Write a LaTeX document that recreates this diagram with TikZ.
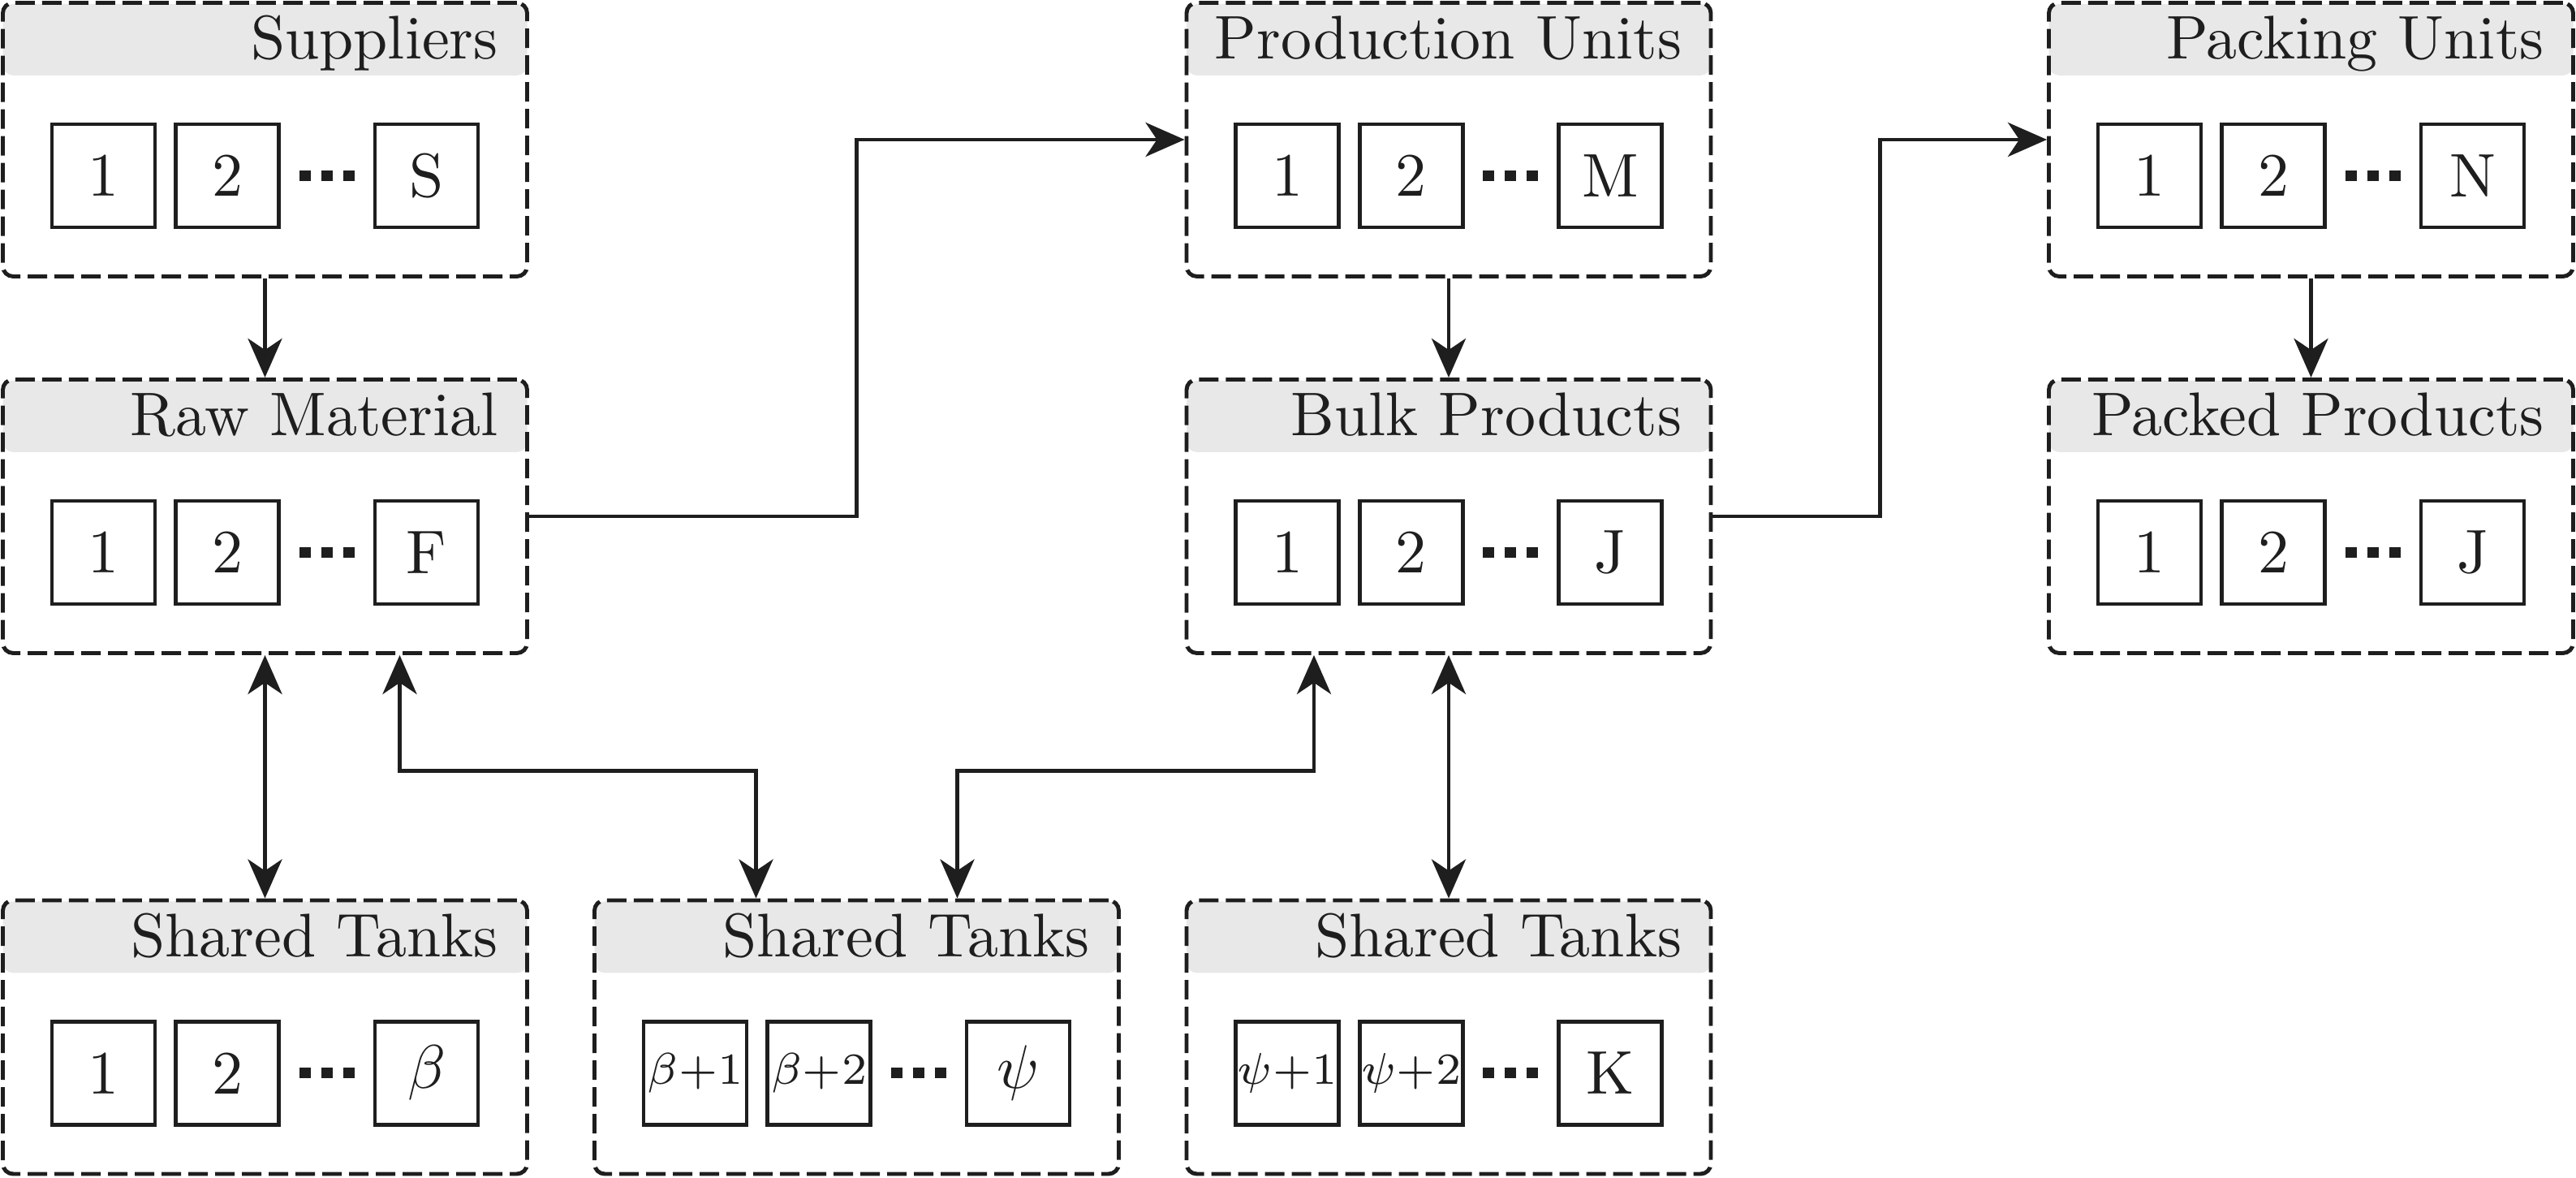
\RequirePackage{fix-cm}
\documentclass[tikz,border=0pt]{standalone}
\usepackage{tikz}
\usetikzlibrary{arrows.meta,positioning,calc}
\definecolor{Ink}{HTML}{1E1E1E}
\definecolor{HeadFill}{HTML}{E8E8E8}
\newcommand{\tankidx}[1]{{\fontsize{7.8}{9}\selectfont$#1$}}
\newcommand{\dotrun}{\rule{0.07cm}{0.065cm}\hspace{0.065cm}\rule{0.07cm}{0.065cm}\hspace{0.065cm}\rule{0.07cm}{0.065cm}}
\newcommand{\stage}[6]{%
\node[hdr,anchor=north] (#1-h) at ($(#2)+(0,0.8425)$) {};
\node[grp] (#1) at (#2) {};
\node[hdrtext] (#1-t) at ($(#1-h.east)+(-0.18,-0.12)$) {#3};
\node[cell] (#1-a) at ($(#1.center)+(-0.995,-0.2225)$) {#4};
\node[cell,right=0.105cm of #1-a] (#1-b) {#5};
\node[cell] (#1-c) at ($(#1.center)+(0.995,-0.2225)$) {#6};
\node[dotrow] (#1-d) at ($(#1-b.east)!0.5!(#1-c.west)$) {\dotrun};}

\begin{document}
\begin{tikzpicture}[
  font=\fontsize{10.8}{13}\selectfont,
  grp/.style={draw=Ink,line width=0.7pt,dash pattern=on 0.12cm off 0.045cm,rounded corners=1.8pt,minimum width=3.23cm,minimum height=1.685cm,inner sep=0pt},
  hdr/.style={fill=HeadFill,rounded corners=1.8pt,minimum width=3.23cm,minimum height=0.44cm,inner sep=0pt},
  hdrtext/.style={inner sep=0pt,anchor=base east,text=Ink},
  cell/.style={draw=Ink,line width=0.7pt,fill=white,minimum width=0.635cm,minimum height=0.635cm,inner sep=0pt,text=Ink},
  dotrow/.style={inner sep=0pt,text=Ink},
  arr/.style={-{Stealth[length=0.24cm,width=0.21cm,inset=0.07cm]},line width=0.7pt,color=Ink},
  biarr/.style={{Stealth[length=0.24cm,width=0.21cm,inset=0.07cm]}-{Stealth[length=0.24cm,width=0.21cm,inset=0.07cm]},line width=0.7pt,color=Ink}]
\useasboundingbox (0,0) rectangle (15.87,-7.255);
\stage{sup}{1.6325,-0.86}{Suppliers}{1}{2}{S}
\stage{raw}{1.6325,-3.18}{Raw Material}{1}{2}{F}
\stage{tkA}{1.6325,-6.3875}{Shared Tanks}{1}{2}{$\beta$}
\stage{tkB}{5.2775,-6.3875}{Shared Tanks}{\tankidx{\beta{+}1}}{\tankidx{\beta{+}2}}{$\psi$}
\stage{prod}{8.925,-0.86}{Production Units}{1}{2}{M}
\stage{bulk}{8.925,-3.18}{Bulk Products}{1}{2}{J}
\stage{tkC}{8.925,-6.3875}{Shared Tanks}{\tankidx{\psi{+}1}}{\tankidx{\psi{+}2}}{K}
\stage{pack}{14.2375,-0.86}{Packing Units}{1}{2}{N}
\stage{packd}{14.2375,-3.18}{Packed Products}{1}{2}{J}
\draw[arr] (sup.south)--(raw.north);
\draw[arr] (raw.east) -| ($(raw.east)!.5!(prod.west)$) |- (prod.west);
\draw[arr] (prod.south)--(bulk.north);
\draw[arr] (bulk.east) -| ($(bulk.east)!.5!(pack.west)$) |- (pack.west);
\draw[arr] (pack.south)--(packd.north);
\draw[biarr] (raw.south)--(tkA.north);
\draw[biarr] ($(raw.south)+(0.83,0)$) -- ++(0,-0.715) -| ($(tkB.north)+(-0.62,0)$);
\draw[biarr] ($(bulk.south)+(-0.83,0)$) -- ++(0,-0.715) -| ($(tkB.north)+(0.62,0)$);
\draw[biarr] (bulk.south)--(tkC.north);
\end{tikzpicture}
\end{document}
